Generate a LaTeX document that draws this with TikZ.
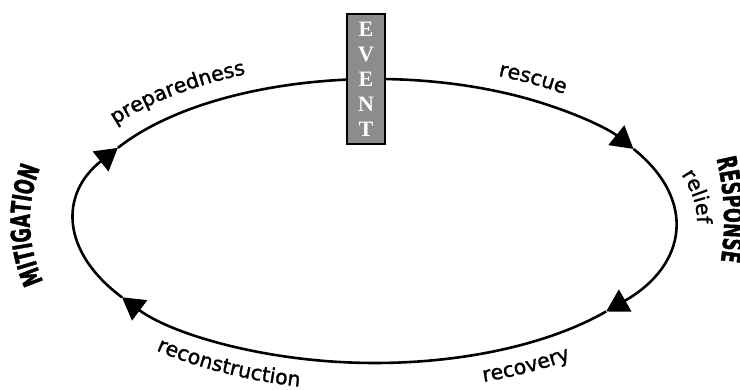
\documentclass[tikz,border=0pt]{standalone}
\usepackage{fontspec}
\usetikzlibrary{arrows.meta,decorations.text}
\newfontfamily\lblfont[FakeBold=1.4]{DejaVu Sans}
\newfontfamily\capsfont[FakeStretch=0.64,FakeBold=1.5]{DejaVu Sans Bold}
\newfontfamily\evfont{Liberation Serif}
\begin{document}
\begin{tikzpicture}[x=1pt,y=1pt,
  cyc/.style={line width=2.6pt, -{Triangle[length=22pt,width=25pt]}},
  lbl/.style={decorate, decoration={text along path, text align=left,
      text={|\lblfont\fontsize{20.5}{24}\selectfont|#1}}},
  caps/.style={decorate, decoration={text along path, text align=left,
      text={|\capsfont\fontsize{27}{30}\selectfont|#1}}},
  eventbox/.style={draw=black, line width=2.4pt, fill=black!45,
      minimum width=38pt, minimum height=130pt, inner sep=0pt, align=center,
      text=white, font=\evfont\bfseries\fontsize{22}{25}\selectfont}]
\useasboundingbox (0,0) rectangle (740,390);

% arrow points on the cycle
\coordinate (a1) at ([shift={(375,169)}]149:300 and 142);
\coordinate (a2) at ([shift={(375,169)}]30.5:300 and 142);
\coordinate (a3) at ([shift={(375,169)}]-39.6:300 and 142);
\coordinate (a4) at ([shift={(375,169)}]-147.5:300 and 142);

\draw[cyc] (a1) arc[start angle=149, end angle=30.5, x radius=300pt, y radius=142pt];
\draw[cyc] (a2) arc[start angle=30.5, end angle=-39.6, x radius=300pt, y radius=142pt];
\draw[cyc] (a3) arc[start angle=-39.6, end angle=-147.5, x radius=300pt, y radius=142pt];
\draw[cyc] (a4) arc[start angle=-147.5, end angle=-211, x radius=300pt, y radius=142pt];

\node[eventbox] (event) at (366,311) {E\\V\\E\\N\\T};

% labels along the cycle
\path[lbl=preparedness] ([shift={(375,169)}]143:325 and 160)
  arc[start angle=143, end angle=80, x radius=325pt, y radius=160pt];
\path[lbl=rescue] ([shift={(375,169)}]67.5:322 and 157)
  arc[start angle=67.5, end angle=15, x radius=322pt, y radius=157pt];
\path[lbl=relief] ([shift={(375,169)}]18:322 and 150)
  arc[start angle=18, end angle=-40, x radius=322pt, y radius=150pt];
\path[lbl=reconstruction] ([shift={(375,169)}]229.5:337 and 170)
  arc[start angle=229.5, end angle=300, x radius=337pt, y radius=170pt];
\path[lbl=recovery] ([shift={(375,169)}]288.8:337 and 170)
  arc[start angle=288.8, end angle=350, x radius=337pt, y radius=170pt];

\path[caps=MITIGATION] ([shift={(375,169)}]196:345 and 220)
  arc[start angle=196, end angle=140, x radius=345pt, y radius=220pt];
\path[caps=RESPONSE] ([shift={(375,169)}]12:349 and 300)
  arc[start angle=12, end angle=-40, x radius=349pt, y radius=300pt];
\end{tikzpicture}
\end{document}
